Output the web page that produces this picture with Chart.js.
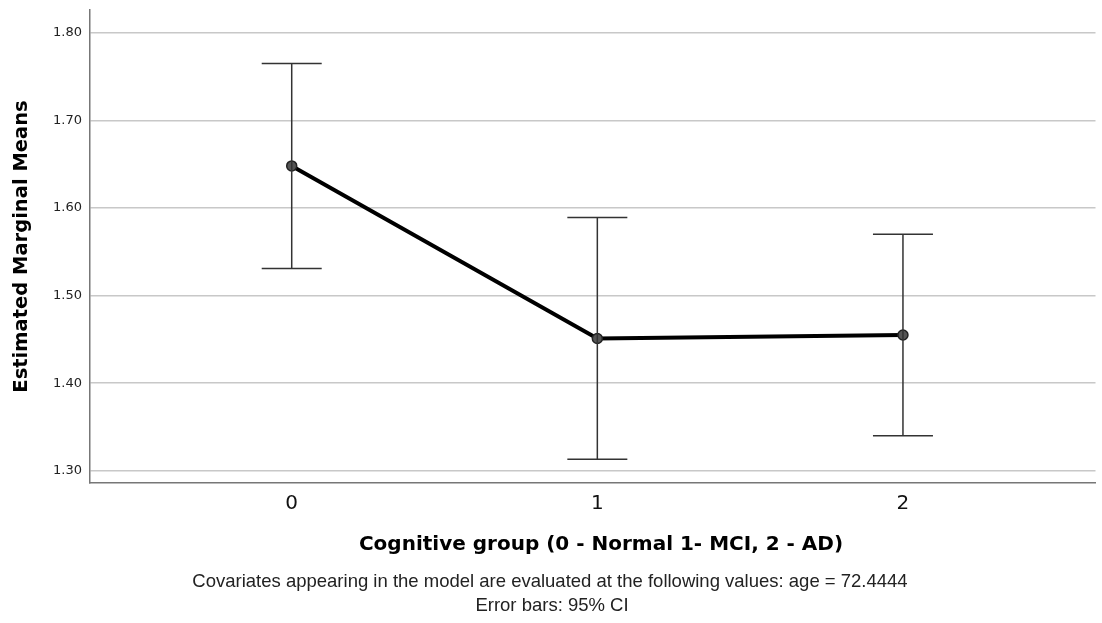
<!DOCTYPE html>
<html>
<head>
<meta charset="utf-8">
<script src="https://cdn.jsdelivr.net/npm/chart.js@4"></script>
<style>
  html, body { margin: 0; padding: 0; background: #fff; }
  #wrap { width: 1102px; height: 623px; }
</style>
</head>
<body>
<div id="wrap"><canvas id="emm-chart" width="1102" height="623"></canvas></div>
<script>
const groups = [0, 1, 2];
const means = [1.648, 1.451, 1.455];
const ciLower = [1.531, 1.313, 1.340];
const ciUpper = [1.765, 1.589, 1.570];
const yTicks = [1.30, 1.40, 1.50, 1.60, 1.70, 1.80];
const xTitle = 'Cognitive group (0 - Normal 1- MCI, 2 - AD)';
const notes = [
    'Covariates appearing in the model are evaluated at the following values: age = 72.4444',
    'Error bars: 95% CI'
];

const ctx = document.getElementById('emm-chart').getContext('2d');

// draw the CI whiskers with caps from the scales
const errorBars = {
    id: 'errorBars',
    afterDatasetsDraw(chart) {
        const x = chart.scales.x, y = chart.scales.y, c = chart.ctx;
        c.save();
        c.strokeStyle = '#333';
        c.lineWidth = 1.5;
        groups.forEach((g, i) => {
            const px = x.getPixelForValue(g);
            const top = y.getPixelForValue(ciUpper[i]);
            const bot = y.getPixelForValue(ciLower[i]);
            c.beginPath();
            c.moveTo(px, top); c.lineTo(px, bot);
            c.moveTo(px - 30, top); c.lineTo(px + 30, top);
            c.moveTo(px - 30, bot); c.lineTo(px + 30, bot);
            c.stroke();
        });
        c.restore();
    },
    afterDraw(chart) {
        const c = chart.ctx;
        c.save();
        c.textAlign = 'center';
        c.textBaseline = 'middle';
        c.fillStyle = '#000';
        c.font = 'bold 20px "DejaVu Sans", sans-serif';
        c.fillText(xTitle, 601, 545);
        c.fillStyle = '#222';
        c.font = '18.5px "Liberation Sans", Arial, sans-serif';
        c.fillText(notes[0], 550, 582);
        c.fillText(notes[1], 552, 606);
        c.restore();
    }
};

new Chart(ctx, {
    type: 'line',
    data: {
        datasets: [{
            data: groups.map((g, i) => ({ x: g, y: means[i] })),
            borderColor: '#000',
            borderWidth: 4,
            pointRadius: 5,
            pointBackgroundColor: '#555',
            pointBorderColor: '#222',
            pointBorderWidth: 1.5,
            tension: 0
        }]
    },
    options: {
        responsive: false,
        animation: false,
        layout: { padding: { top: 10, right: -2, left: 0, bottom: 66 } },
        plugins: {
            legend: { display: false },
            tooltip: { enabled: false }
        },
        scales: {
            x: {
                type: 'linear',
                min: -0.66,
                max: 2.63,
                afterBuildTicks: s => { s.ticks = groups.map(v => ({ value: v })); },
                afterFit: s => { s.height = 74; s.paddingLeft = 0; s.paddingRight = 0; },
                grid: { display: false, drawTicks: false },
                border: { display: true, color: '#777', width: 1.5 },
                ticks: {
                    color: '#111',
                    padding: 9,
                    font: { family: 'DejaVu Sans', size: 20 },
                    callback: v => String(v)
                }
            },
            y: {
                min: 1.286,
                max: 1.826,
                afterBuildTicks: s => { s.ticks = yTicks.map(v => ({ value: v })); },
                afterFit: s => { s.width = 90; s.paddingTop = 0; s.paddingBottom = 0; },
                grid: { color: '#c8c8c8', lineWidth: 1.5, drawTicks: false },
                border: { display: true, color: '#777', width: 1.5 },
                ticks: {
                    color: '#222',
                    padding: 8,
                    font: { family: 'DejaVu Sans', size: 13 },
                    callback: v => v.toFixed(2)
                },
                title: {
                    display: true,
                    text: 'Estimated Marginal Means',
                    color: '#000',
                    font: { family: 'DejaVu Sans', size: 19.5, weight: 'bold' },
                    padding: { top: 10, bottom: 0 }
                }
            }
        }
    },
    plugins: [errorBars]
});
</script>
</body>
</html>
